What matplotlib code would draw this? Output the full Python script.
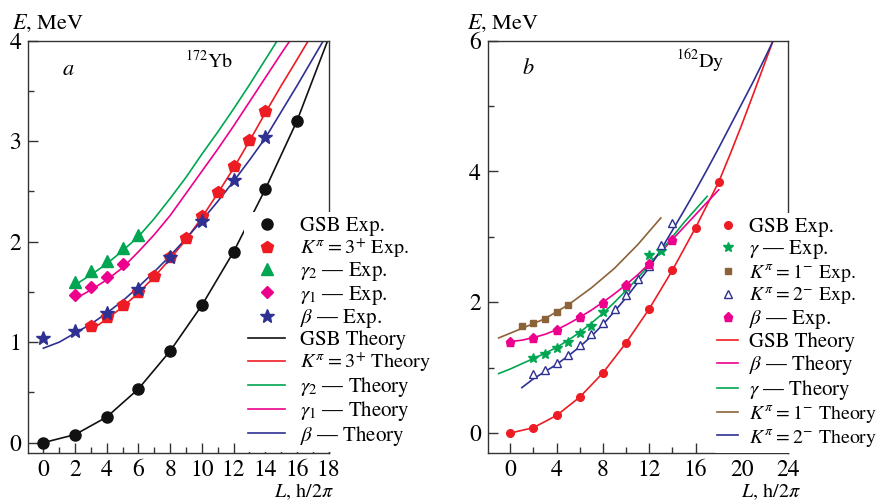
import matplotlib
matplotlib.use("Agg")
import matplotlib.pyplot as plt
from matplotlib.ticker import MultipleLocator

plt.rcParams['font.family'] = ['STIXGeneral', 'DejaVu Serif']
plt.rcParams['mathtext.fontset'] = 'stix'

W, H = 879, 501

# ---------------- 172Yb ----------------
yb_gsb_L = [0, 2, 4, 6, 8, 10, 12, 14, 16]
yb_gsb_E = [0.0, 0.08, 0.255, 0.535, 0.912, 1.366, 1.898, 2.52, 3.20]
yb_k3_L = [3, 4, 5, 6, 7, 8, 9, 10, 11, 12, 13, 14]
yb_k3_E = [1.164, 1.25, 1.366, 1.50, 1.657, 1.85, 2.04, 2.26, 2.49, 2.75, 3.01, 3.30]
yb_g2_L = [2, 3, 4, 5, 6]
yb_g2_E = [1.60, 1.71, 1.81, 1.94, 2.07]
yb_g1_L = [2, 3, 4, 5]
yb_g1_E = [1.465, 1.545, 1.644, 1.773]
yb_beta_L = [0, 2, 4, 6, 8, 10, 12, 14]
yb_beta_E = [1.04, 1.114, 1.287, 1.53, 1.85, 2.21, 2.61, 3.045]

yb_gsb_th_L = [0, 2, 4, 6, 8, 10, 12, 14, 16, 17.94]
yb_gsb_th_E = [0.0, 0.08, 0.255, 0.535, 0.912, 1.366, 1.898, 2.52, 3.20, 4.0]
yb_k3_th_L = [3, 4, 5, 6, 7, 8, 9, 10, 11, 12, 13, 14, 15, 16, 16.72]
yb_k3_th_E = [1.12, 1.23, 1.35, 1.49, 1.65, 1.83, 2.02, 2.24, 2.48, 2.73, 3.00, 3.28, 3.55, 3.81, 4.0]
yb_g2_th_L = [2, 3, 4, 5, 6, 7, 8, 9, 10, 11, 12, 13, 14, 14.76]
yb_g2_th_E = [1.57, 1.67, 1.78, 1.91, 2.05, 2.23, 2.43, 2.64, 2.87, 3.09, 3.32, 3.56, 3.81, 4.0]
yb_g1_th_L = [2, 3, 4, 5, 6, 7, 8, 9, 10, 11, 12, 13, 14, 15, 15.56]
yb_g1_th_E = [1.43, 1.52, 1.62, 1.74, 1.90, 2.07, 2.26, 2.48, 2.70, 2.92, 3.15, 3.39, 3.63, 3.87, 4.0]
yb_beta_th_L = [0, 1, 2, 3, 4, 5, 6, 7, 8, 9, 10, 11, 12, 13, 14, 15, 16, 17, 17.67]
yb_beta_th_E = [0.94, 1.00, 1.09, 1.18, 1.29, 1.41, 1.55, 1.70, 1.86, 2.03, 2.21, 2.40, 2.60,
                2.81, 3.03, 3.29, 3.55, 3.82, 4.0]

# ---------------- 162Dy ----------------
dy_gsb_L = [0, 2, 4, 6, 8, 10, 12, 14, 16, 18]
dy_gsb_E = [0.0, 0.083, 0.27, 0.55, 0.92, 1.38, 1.90, 2.49, 3.14, 3.84]
dy_gamma_L = [2, 3, 4, 5, 6, 7, 8, 10, 12, 13]
dy_gamma_E = [1.15, 1.215, 1.30, 1.39, 1.53, 1.64, 1.85, 2.24, 2.72, 2.78]
dy_k1_L = [1, 2, 3, 4, 5]
dy_k1_E = [1.64, 1.685, 1.74, 1.85, 1.96]
dy_k2_L = [2, 3, 4, 5, 6, 7, 8, 9, 10, 11, 12, 13, 14]
dy_k2_E = [0.90, 0.96, 1.07, 1.20, 1.34, 1.51, 1.685, 1.89, 2.11, 2.35, 2.55, 2.875, 3.21]
dy_beta_L = [0, 2, 4, 6, 8, 10, 12, 14]
dy_beta_E = [1.40, 1.455, 1.57, 1.78, 1.99, 2.26, 2.59, 2.95]

dy_gsb_th_L = [0, 2, 4, 6, 8, 10, 12, 14, 16, 18, 19, 20, 21, 22, 22.7]
dy_gsb_th_E = [0.0, 0.083, 0.27, 0.55, 0.92, 1.38, 1.90, 2.49, 3.14, 3.84, 4.27, 4.72, 5.19,
               5.67, 6.0]
dy_beta_th_L = list(range(0, 19))
dy_beta_th_E = [1.40, 1.42, 1.46, 1.51, 1.58, 1.67, 1.77, 1.88, 2.00, 2.13, 2.27, 2.42, 2.59,
                2.77, 2.96, 3.15, 3.34, 3.53, 3.72]
dy_gamma_th_L = list(range(-1, 18))
dy_gamma_th_E = [0.91, 0.98, 1.06, 1.14, 1.22, 1.31, 1.42, 1.54, 1.68, 1.83, 2.00, 2.18, 2.37,
                 2.57, 2.78, 3.00, 3.22, 3.42, 3.62]
dy_k1_th_L = [-1, 1, 3, 5, 7, 9, 11, 13]
dy_k1_th_E = [1.455, 1.60, 1.75, 1.96, 2.22, 2.52, 2.88, 3.29]
dy_k2_th_L = [1, 2, 3, 4, 5, 6, 7, 8, 9, 10, 11, 12, 13, 14, 15, 16, 17, 18, 19, 20, 21, 22,
              22.7]
dy_k2_th_E = [0.695, 0.83, 0.94, 1.05, 1.18, 1.32, 1.48, 1.66, 1.86, 2.07, 2.30, 2.53, 2.80,
              3.10, 3.40, 3.71, 4.03, 4.36, 4.70, 5.04, 5.38, 5.74, 6.0]

# colours
BLACK = '#111111'
RED = '#ED1C24'
GREEN = '#00A651'
MAGENTA = '#EC008C'
BLUE = '#2E3192'
BROWN = '#8C6239'

fig = plt.figure(figsize=(W / 100, H / 100), dpi=100)


def px_axes(x0, x1, y0, y1):
    return fig.add_axes([x0 / W, 1 - y1 / H, (x1 - x0) / W, (y1 - y0) / H])


def style_axes(ax, xmaj, xmin, ymaj, ymin):
    for s in ax.spines.values():
        s.set_color('#333333')
        s.set_linewidth(1.0)
    ax.xaxis.set_major_locator(MultipleLocator(xmaj))
    ax.xaxis.set_minor_locator(MultipleLocator(xmin))
    ax.yaxis.set_major_locator(MultipleLocator(ymaj))
    ax.yaxis.set_minor_locator(MultipleLocator(ymin))
    ax.tick_params(which='both', direction='in', top=False, right=False,
                   color='#333333', width=1.0, labelsize=17, pad=5)
    ax.tick_params(which='major', length=7)
    ax.tick_params(which='minor', length=4.5)


def kpi(s):
    # K^pi = value, with a tight equals sign
    return r'$K^{\pi}\hspace{0.05}{=}\hspace{0.05}' + s + '$'


def shrink_k_labels(leg, size):
    for t in leg.get_texts():
        if 'K^' in t.get_text():
            t.set_fontsize(size)


LW = 1.2
LEG_FS = 15.0
leg_kw = dict(frameon=True, facecolor='white', edgecolor='none', framealpha=1.0,
              fontsize=LEG_FS, numpoints=1, borderpad=0.2, borderaxespad=0.0,
              loc='upper left')

# ---------- panel a ----------
ax1 = px_axes(28.3, 328.6, 40.7, 452.7)
ax1.set_xlim(-0.95, 18)
ax1.set_ylim(-0.1, 4)
style_axes(ax1, 2, 1, 1, 0.5)

t_gsb, = ax1.plot(yb_gsb_th_L, yb_gsb_th_E, color=BLACK, lw=LW)
t_k3, = ax1.plot(yb_k3_th_L, yb_k3_th_E, color=RED, lw=LW)
t_g2, = ax1.plot(yb_g2_th_L, yb_g2_th_E, color=GREEN, lw=LW)
t_g1, = ax1.plot(yb_g1_th_L, yb_g1_th_E, color=MAGENTA, lw=LW)
t_b, = ax1.plot(yb_beta_th_L, yb_beta_th_E, color=BLUE, lw=LW)

e_gsb, = ax1.plot(yb_gsb_L, yb_gsb_E, 'o', color=BLACK, ms=8, ls='none')
e_k3, = ax1.plot(yb_k3_L, yb_k3_E, 'p', color=RED, ms=9, ls='none')
e_g2, = ax1.plot(yb_g2_L, yb_g2_E, '^', color=GREEN, ms=9, ls='none')
e_g1, = ax1.plot(yb_g1_L, yb_g1_E, 'D', color=MAGENTA, ms=6.3, ls='none')
e_b, = ax1.plot(yb_beta_L, yb_beta_E, '*', color=BLUE, ms=10, ls='none')

leg1 = ax1.legend(
    [e_gsb, e_k3, e_g2, e_g1, e_b, t_gsb, t_k3, t_g2, t_g1, t_b],
    ['GSB Exp.', kpi('3^{+}') + ' Exp.', r'$\gamma_2$ — Exp.', r'$\gamma_1$ — Exp.',
     r'$\beta$ — Exp.', 'GSB Theory', kpi('3^{+}') + ' Theory', r'$\gamma_2$ — Theory',
     r'$\gamma_1$ — Theory', r'$\beta$ — Theory'],
    bbox_to_anchor=(244 / W, 1 - 212 / H), bbox_transform=fig.transFigure,
    handlelength=1.78, handletextpad=0.72, labelspacing=0.02, **leg_kw)
leg1.set_zorder(5)
shrink_k_labels(leg1, 14.6)

# ---------- panel b ----------
ax2 = px_axes(487.7, 788.2, 40.7, 452.7)
ax2.set_xlim(-1.95, 24)
ax2.set_ylim(-0.3, 6)
style_axes(ax2, 4, 2, 2, 1)

u_gsb, = ax2.plot(dy_gsb_th_L, dy_gsb_th_E, color=RED, lw=LW)
u_b, = ax2.plot(dy_beta_th_L, dy_beta_th_E, color=MAGENTA, lw=LW)
u_g, = ax2.plot(dy_gamma_th_L, dy_gamma_th_E, color=GREEN, lw=LW)
u_k1, = ax2.plot(dy_k1_th_L, dy_k1_th_E, color=BROWN, lw=LW)
u_k2, = ax2.plot(dy_k2_th_L, dy_k2_th_E, color=BLUE, lw=LW)

f_gsb, = ax2.plot(dy_gsb_L, dy_gsb_E, 'o', color=RED, ms=5.5, ls='none')
f_g, = ax2.plot(dy_gamma_L, dy_gamma_E, '*', color=GREEN, ms=7, ls='none')
f_k1, = ax2.plot(dy_k1_L, dy_k1_E, 's', color=BROWN, ms=4.8, ls='none')
f_k2, = ax2.plot(dy_k2_L, dy_k2_E, '^', mfc='white', mec=BLUE, mew=1.0, ms=5.5, ls='none')
f_b, = ax2.plot(dy_beta_L, dy_beta_E, 'p', color=MAGENTA, ms=6.5, ls='none')

leg2 = ax2.legend(
    [f_gsb, f_g, f_k1, f_k2, f_b, u_gsb, u_b, u_g, u_k1, u_k2],
    ['GSB Exp.', r'$\gamma$ — Exp.', kpi('1^{-}') + ' Exp.', kpi('2^{-}') + ' Exp.',
     r'$\beta$ — Exp.', 'GSB Theory', r'$\beta$ — Theory', r'$\gamma$ — Theory',
     kpi('1^{-}') + ' Theory', kpi('2^{-}') + ' Theory'],
    bbox_to_anchor=(713 / W, 1 - 213 / H), bbox_transform=fig.transFigure,
    handlelength=1.02, handletextpad=0.53, labelspacing=0.055, **leg_kw)
leg2.set_zorder(5)
shrink_k_labels(leg2, 14.2)


def ftext(x, y, s, **kw):
    fig.text(x / W, 1 - y / H, s, **kw)


ftext(11.7, 29, r'$E$, MeV', fontsize=16, va='baseline')
ftext(466.7, 29, r'$E$, MeV', fontsize=16, va='baseline')
ftext(334, 497, r'$L$, h/2$\pi$', fontsize=14.5, ha='right', va='baseline')
ftext(801, 497, r'$L$, h/2$\pi$', fontsize=14.5, ha='right', va='baseline')
ftext(63, 75, 'a', fontsize=16, style='italic', va='baseline')
ftext(522.7, 74, 'b', fontsize=16, style='italic', va='baseline')
ftext(185, 68, r'$^{172}$Yb', fontsize=14.5, va='baseline')
ftext(676, 68, r'$^{162}$Dy', fontsize=14.5, va='baseline')

fig.savefig('out.png', dpi=100)
